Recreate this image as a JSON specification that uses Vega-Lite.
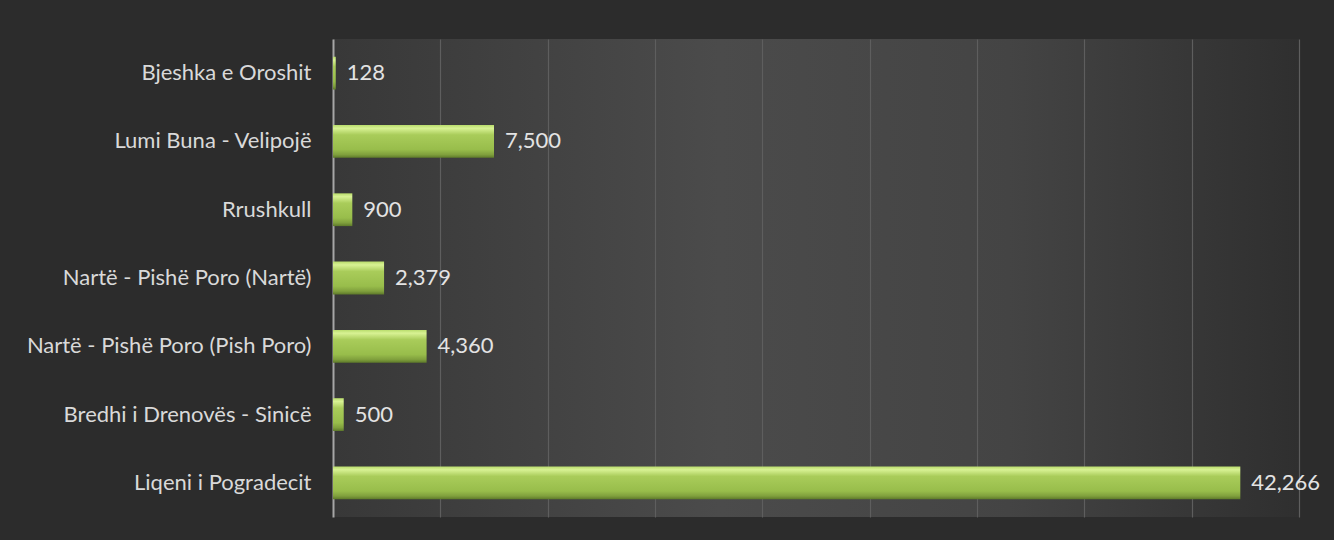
{
  "$schema": "https://vega.github.io/schema/vega-lite/v6.json",
  "width": 966,
  "height": 478,
  "autosize": {"type": "none"},
  "padding": {"left": 333, "top": 39, "right": 35, "bottom": 23},
  "background": "#2c2c2c",
  "config": {
    "view": {
      "stroke": null,
      "fill": {
        "gradient": "linear", "x1": 0, "y1": 0, "x2": 1, "y2": 0,
        "stops": [
          {"offset": 0, "color": "#383838"},
          {"offset": 0.4, "color": "#4b4b4b"},
          {"offset": 0.7, "color": "#444444"},
          {"offset": 1, "color": "#2f2f2f"}
        ]
      }
    },
    "font": "Lato"
  },
  "data": {
    "values": [
      {"zone": "Bjeshka e Oroshit", "ha": 128},
      {"zone": "Lumi Buna - Velipojë", "ha": 7500},
      {"zone": "Rrushkull", "ha": 900},
      {"zone": "Nartë - Pishë Poro (Nartë)", "ha": 2379},
      {"zone": "Nartë - Pishë Poro (Pish Poro)", "ha": 4360},
      {"zone": "Bredhi i Drenovës - Sinicë", "ha": 500},
      {"zone": "Liqeni i Pogradecit", "ha": 42266}
    ]
  },
  "encoding": {
    "y": {
      "field": "zone", "type": "nominal", "sort": null, "title": null,
      "scale": {"paddingInner": 0.52, "paddingOuter": 0.26},
      "axis": {
        "domain": true, "domainColor": "#a6a6a6", "domainWidth": 2,
        "ticks": false, "labelPadding": 22, "labelFontSize": 22,
        "labelColor": "#d9d9d9", "labelFont": "Lato", "labelLimit": 400
      }
    },
    "x": {
      "field": "ha", "type": "quantitative", "title": null,
      "scale": {"domain": [0, 45000], "nice": false},
      "axis": {
        "values": [5000, 10000, 15000, 20000, 25000, 30000, 35000, 40000, 45000],
        "labels": false, "ticks": false, "domain": false,
        "grid": true, "gridColor": "#5e5e5e", "gridWidth": 1.2
      }
    }
  },
  "layer": [
    {
      "mark": {
        "type": "bar",
        "color": {
          "gradient": "linear", "x1": 0, "y1": 0, "x2": 0, "y2": 1,
          "stops": [
            {"offset": 0, "color": "#b9dc6c"},
            {"offset": 0.1, "color": "#d8f294"},
            {"offset": 0.3, "color": "#a9cc5a"},
            {"offset": 0.75, "color": "#98bd4b"},
            {"offset": 0.9, "color": "#80a03d"},
            {"offset": 1, "color": "#5e7a2a"}
          ]
        }
      }
    },
    {
      "mark": {"type": "text", "align": "left", "baseline": "middle", "dx": 11, "fontSize": 22, "color": "#e3e3e3", "font": "Lato"},
      "encoding": {"text": {"field": "ha", "type": "quantitative", "format": ","}}
    }
  ]
}
